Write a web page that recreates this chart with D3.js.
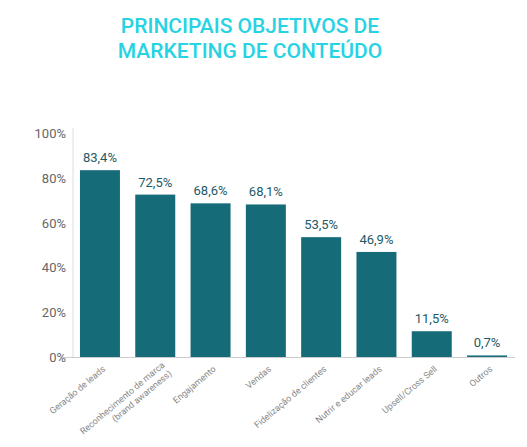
<!DOCTYPE html><html><head><meta charset="utf-8"><script src="https://cdn.jsdelivr.net/npm/d3@7"></script>
<style>body{margin:0;background:#fff}</style></head><body><svg width="527" height="447"></svg>
<script>
const categories=["Geração de leads","Reconhecimento de marca|(brand awareness)","Engajamento","Vendas","Fidelização de clientes","Nutrir e educar leads","Upsell/Cross Sell","Outros"];
const values=[83.4,72.5,68.6,68.1,53.5,46.9,11.5,0.7];
const yTicks=[0,20,40,60,80,100];
const svg=d3.select("svg");
const x=d3.scaleBand().domain(categories).range([72.3,514.7]).paddingInner(0.277).paddingOuter(0.1385);
const y=d3.scaleLinear().domain([0,100]).range([357,133]);
svg.append("text").attr("x",250).attr("y",33).attr("text-anchor","middle").attr("fill","#27d3e3").attr("font-family","Roboto").attr("font-size",21).attr("font-weight","500").text("PRINCIPAIS OBJETIVOS DE");
svg.append("text").attr("x",250).attr("y",58).attr("text-anchor","middle").attr("fill","#27d3e3").attr("font-family","Roboto").attr("font-size",21).attr("font-weight","500").text("MARKETING DE CONTEÚDO");
svg.append("line").attr("x1",73).attr("x2",73).attr("y1",128).attr("y2",357).attr("stroke","#ddd");
svg.append("line").attr("x1",62).attr("x2",515).attr("y1",357.5).attr("y2",357.5).attr("stroke","#ccc");
svg.selectAll(".yt").data(yTicks).join("text").attr("x",66).attr("y",d=>y(d)+5).attr("text-anchor","end").attr("fill","#666").attr("font-family","Roboto").attr("font-size",13).text(d=>d+"%");
svg.selectAll("rect").data(values).join("rect").attr("x",(d,i)=>x(categories[i])).attr("width",x.bandwidth()).attr("y",d=>y(d)).attr("height",d=>357-y(d)).attr("fill","#166b78");
svg.selectAll(".vl").data(values).join("text").attr("x",(d,i)=>x(categories[i])+x.bandwidth()/2).attr("y",d=>y(d)-8).attr("text-anchor","middle").attr("fill","#1d5a66").attr("font-family","Roboto").attr("font-size",13).text(d=>String(d.toFixed(1)).replace(".",",")+"%");
categories.forEach((c,i)=>{
 const cx=x(c)+x.bandwidth()/2, lines=c.split("|");
 const t=svg.append("text").attr("transform",`translate(${cx+6},${370}) rotate(-40)`).attr("text-anchor","end").attr("fill","#888").attr("font-family","Roboto").attr("font-size",9);
 lines.forEach((l,j)=>t.append("tspan").attr("x",lines.length>1&&j==1?0:0).attr("dy",j?11:0).text(l));
 if(lines.length>1){t.attr("transform",`translate(${cx+10},${366}) rotate(-40)`);}
});
</script></body></html>
